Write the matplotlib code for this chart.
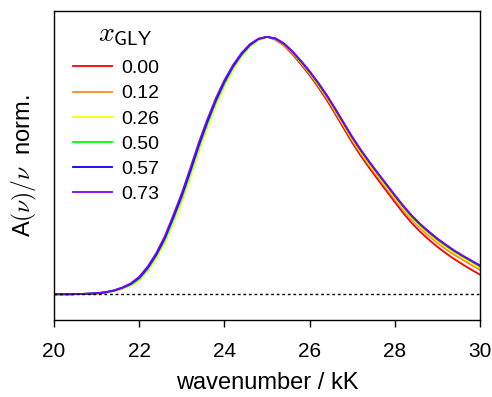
import matplotlib
matplotlib.use("Agg")
import matplotlib.pyplot as plt
from matplotlib.ticker import MultipleLocator

plt.rcParams['mathtext.fontset'] = 'cm'
plt.rcParams['font.family'] = 'Liberation Sans'

# wavenumber grid (kK)
wavenumber = [20.0, 20.2, 20.4, 20.6, 20.8, 21.0, 21.2, 21.4, 21.6, 21.8,
              22.0, 22.2, 22.4, 22.6, 22.8, 23.0, 23.2, 23.4, 23.6, 23.8,
              24.0, 24.2, 24.4, 24.6, 24.8, 25.0, 25.2, 25.4, 25.6, 25.8,
              26.0, 26.2, 26.4, 26.6, 26.8, 27.0, 27.2, 27.4, 27.6, 27.8,
              28.0, 28.2, 28.4, 28.6, 28.8, 29.0, 29.2, 29.4, 29.6, 29.8, 30.0]

# normalised band shapes A(nu)/nu, one list per glycerol fraction
band_000 = [0.000, 0.000, 0.000, 0.001, 0.002, 0.003, 0.007, 0.013, 0.023, 0.037,
            0.060, 0.098, 0.149, 0.211, 0.291, 0.375, 0.471, 0.571, 0.663, 0.747,
            0.819, 0.880, 0.929, 0.966, 0.990, 1.000, 0.989, 0.966, 0.932, 0.893,
            0.851, 0.805, 0.755, 0.701, 0.645, 0.589, 0.538, 0.491, 0.446, 0.402,
            0.358, 0.315, 0.276, 0.242, 0.212, 0.184, 0.159, 0.136, 0.115, 0.095, 0.076]
band_012 = [0.000, 0.000, 0.000, 0.001, 0.002, 0.003, 0.007, 0.013, 0.022, 0.036,
            0.058, 0.096, 0.146, 0.208, 0.287, 0.370, 0.466, 0.566, 0.659, 0.743,
            0.816, 0.877, 0.927, 0.965, 0.989, 1.000, 0.991, 0.969, 0.937, 0.899,
            0.858, 0.813, 0.764, 0.710, 0.654, 0.598, 0.548, 0.501, 0.457, 0.413,
            0.370, 0.328, 0.289, 0.256, 0.227, 0.199, 0.175, 0.153, 0.133, 0.113, 0.095]
band_026 = [0.000, 0.000, 0.000, 0.001, 0.001, 0.003, 0.006, 0.012, 0.021, 0.034,
            0.054, 0.091, 0.140, 0.201, 0.279, 0.361, 0.456, 0.556, 0.650, 0.735,
            0.810, 0.872, 0.923, 0.962, 0.988, 1.000, 0.992, 0.970, 0.938, 0.900,
            0.859, 0.814, 0.766, 0.712, 0.657, 0.602, 0.552, 0.506, 0.462, 0.419,
            0.376, 0.334, 0.296, 0.263, 0.234, 0.207, 0.183, 0.161, 0.141, 0.122, 0.103]
band_050 = [0.000, 0.000, 0.000, 0.001, 0.002, 0.003, 0.007, 0.013, 0.023, 0.037,
            0.060, 0.098, 0.149, 0.211, 0.291, 0.375, 0.471, 0.571, 0.663, 0.747,
            0.819, 0.880, 0.929, 0.966, 0.990, 1.000, 0.992, 0.971, 0.940, 0.902,
            0.862, 0.818, 0.770, 0.717, 0.662, 0.607, 0.557, 0.511, 0.467, 0.424,
            0.381, 0.339, 0.301, 0.268, 0.239, 0.212, 0.188, 0.166, 0.146, 0.127, 0.108]
band_057 = [0.000, 0.000, 0.000, 0.001, 0.002, 0.004, 0.007, 0.014, 0.025, 0.040,
            0.064, 0.103, 0.154, 0.218, 0.299, 0.384, 0.480, 0.580, 0.671, 0.754,
            0.826, 0.885, 0.933, 0.969, 0.992, 1.000, 0.994, 0.974, 0.943, 0.906,
            0.866, 0.822, 0.774, 0.721, 0.666, 0.611, 0.561, 0.515, 0.471, 0.428,
            0.385, 0.343, 0.305, 0.272, 0.243, 0.216, 0.192, 0.169, 0.149, 0.130, 0.111]
band_073 = [0.000, 0.000, 0.000, 0.001, 0.002, 0.004, 0.008, 0.015, 0.026, 0.042,
            0.068, 0.108, 0.160, 0.225, 0.307, 0.393, 0.490, 0.590, 0.680, 0.762,
            0.832, 0.890, 0.937, 0.972, 0.993, 1.000, 0.993, 0.973, 0.942, 0.905,
            0.865, 0.821, 0.773, 0.720, 0.665, 0.610, 0.560, 0.514, 0.470, 0.427,
            0.384, 0.342, 0.304, 0.271, 0.242, 0.215, 0.191, 0.169, 0.149, 0.130, 0.112]

fractions = ['0.00', '0.12', '0.26', '0.50', '0.57', '0.73']
bands = [band_000, band_012, band_026, band_050, band_057, band_073]
colors = ['#ff0000', '#ff8c1a', '#ffff00', '#00ff00', '#0000ff', '#7f00ff']

fig = plt.figure(figsize=(4.92, 3.97), dpi=100)
ax = fig.add_axes([0.1098, 0.194, 0.8658, 0.778])

for frac, band, col in zip(fractions, bands, colors):
    ax.plot(wavenumber, band, color=col, lw=1.3, label=frac)

# baseline
ax.axhline(0, color='black', lw=1.0, ls=(0, (2, 2)))

ax.set_xlim(20, 30)
ax.set_ylim(-0.1, 1.1)
ax.xaxis.set_major_locator(MultipleLocator(2))
ax.set_yticks([])
ax.tick_params(axis='x', direction='out', length=5, width=1, labelsize=15, pad=11)
for sp in ax.spines.values():
    sp.set_linewidth(1.0)

ax.set_xlabel('wavenumber / kK', fontsize=17, labelpad=8)
ax.set_ylabel(r'A$(\nu)/\nu$  norm.', fontsize=17, labelpad=11)

ax.text(0.103, 0.922, r'$x_{\mathsf{GLY}}$', transform=ax.transAxes,
        fontsize=20, ha='left', va='center')
leg = ax.legend(loc='upper left', frameon=False, fontsize=14,
                handlelength=2.0, handletextpad=0.5, labelspacing=0.39,
                borderaxespad=0, borderpad=0, bbox_to_anchor=(0.044, 0.843))

fig.savefig('out.png', dpi=100)
